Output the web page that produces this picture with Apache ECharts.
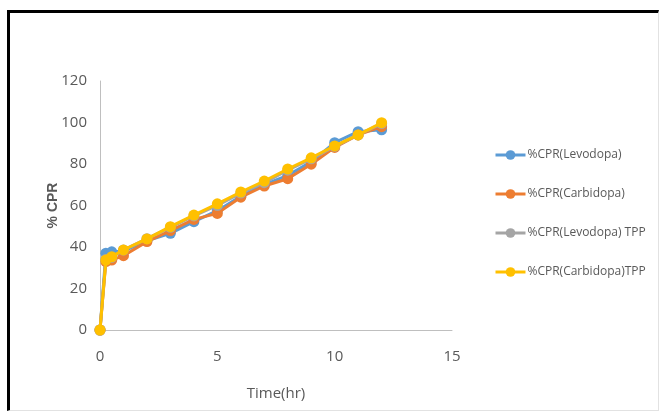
<!DOCTYPE html>
<html>
<head>
<meta charset="utf-8">
<script src="https://cdn.jsdelivr.net/npm/echarts@6/dist/echarts.min.js"></script>
<style>
  html, body { margin: 0; padding: 0; background: #fff; }
  #frame {
    position: absolute; left: 7px; top: 10px; width: 648px; height: 397px;
    border-top: 3px solid #000; border-left: 3px solid #000;
    border-right: 1px solid #e2e2e2; border-bottom: 1px solid #e2e2e2;
  }
  #chart { position: absolute; left: 0; top: 0; width: 659px; height: 413px; }
</style>
</head>
<body>
<div id="frame"></div>
<div id="chart"></div>
<script>
// Sampling times (hours)
const timeHr = [0, 0.25, 0.5, 1, 2, 3, 4, 5, 6, 7, 8, 9, 10, 11, 12];

// Cumulative percent release for each formulation
const levodopa     = [0, 37, 37.7, 38, 43, 46.6, 52.2, 57.5, 64.5, 70, 74.5, 81, 90.3, 95.6, 96.5];
const carbidopa    = [0, 33, 33.7, 35.8, 42.6, 47.9, 53.3, 56.2, 64, 69.4, 72.9, 79.9, 88, 94, 98];
const levodopaTPP  = [0, 34, 35, 38.5, 44, 49.5, 55, 60, 66, 71, 77, 82.5, 88.5, 94, 99.5];
const carbidopaTPP = [0, 33.7, 35.3, 38.6, 43.9, 49.8, 55.4, 60.8, 66.5, 71.8, 77.6, 83, 88.7, 94, 99.9];

const seriesNames = ['%CPR(Levodopa)', '%CPR(Carbidopa)', '%CPR(Levodopa) TPP', '%CPR(Carbidopa)TPP'];
const seriesColors = ['#5b9bd5', '#ed7d31', '#a5a5a5', '#ffc000'];
const seriesValues = [levodopa, carbidopa, levodopaTPP, carbidopaTPP];

const fontFam = "'Liberation Sans Narrow', 'Open Sans', sans-serif";

const chart = echarts.init(document.getElementById('chart'), null, { renderer: 'canvas' });

chart.setOption({
  backgroundColor: 'transparent',
  animation: false,
  grid: { left: 100, right: 207, top: 81, bottom: 83 },
  legend: {
    orient: 'vertical',
    left: 489,
    top: 144,
    itemGap: 27,
    itemWidth: 30,
    itemHeight: 12,
    lineStyle: { width: 3 },
    textStyle: { color: '#595959', fontSize: 12, fontFamily: fontFam, padding: [0, 0, 0, -3] },
    data: seriesNames
  },
  xAxis: {
    type: 'value',
    min: 0, max: 15, interval: 5,
    name: 'Time(hr)',
    nameLocation: 'middle',
    nameGap: 56,
    nameMoveOverlap: false,
    nameTextStyle: { color: '#595959', fontSize: 15, fontFamily: fontFam },
    axisLine: { show: true, lineStyle: { color: '#bfbfbf', width: 1 } },
    axisTick: { show: false },
    splitLine: { show: false },
    axisLabel: { color: '#595959', fontSize: 15, margin: 19, fontFamily: fontFam }
  },
  yAxis: {
    type: 'value',
    min: 0, max: 120, interval: 20,
    name: '% CPR',
    nameLocation: 'middle',
    nameGap: 40,
    nameMoveOverlap: false,
    nameRotate: 90,
    nameTextStyle: { color: '#595959', fontSize: 14, fontWeight: 'bold', fontFamily: "'Liberation Sans', sans-serif" },
    axisLine: { show: true, lineStyle: { color: '#bfbfbf', width: 1 } },
    axisTick: { show: false },
    splitLine: { show: false },
    axisLabel: { color: '#595959', fontSize: 15, margin: 13, fontFamily: fontFam }
  },
  series: seriesNames.map((n, i) => ({
    name: n,
    type: 'line',
    data: timeHr.map((t, k) => [t, seriesValues[i][k]]),
    symbol: 'circle',
    symbolSize: 11,
    showSymbol: true,
    lineStyle: { color: seriesColors[i], width: 3 },
    itemStyle: { color: seriesColors[i] },
    z: 2 + i
  }))
});
</script>
</body>
</html>
